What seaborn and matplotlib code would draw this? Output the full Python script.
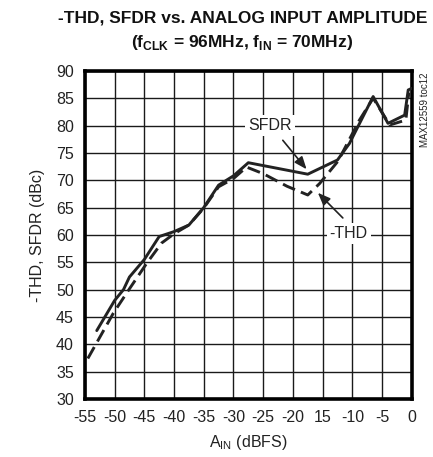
import matplotlib
matplotlib.use("Agg")
import matplotlib.pyplot as plt
import seaborn as sns
import pandas as pd

sfdr_x = [-53, -50, -48.5, -47.5, -45, -42.5, -40, -37.5, -35, -32.5, -30, -27.5, -17.5, -12.5, -10.5, -6.5, -4, -1.2, -0.6, 0]
sfdr_y = [42.5, 48, 50, 52.3, 55.5, 59.7, 60.6, 61.8, 65, 69.1, 70.8, 73.2, 71.1, 73.7, 76.7, 85.3, 80.4, 81.9, 86.5, 86.8]
thd_x = [-54.5, -50.2, -47.4, -44.6, -42.1, -40, -37.5, -35, -32.5, -30, -27.8, -25, -21, -17.5, -15.5, -12.4, -8.8, -6.5, -3.7, -1, -0.5]
thd_y = [37.4, 45.7, 50.3, 54.8, 58.5, 60.2, 61.8, 64.9, 68.8, 70.3, 72.4, 71.2, 68.9, 67.3, 69.4, 73.5, 81, 85, 80.1, 81, 86]
x_ticks = [-55, -50, -45, -40, -35, -30, -25, -20, -15, -10, -5, 0]
x_tick_labels = ["-55", "-50", "-45", "-40", "-35", "-30", "-25", "-20", "15", "-10", "-5", "0"]
y_ticks = [30, 35, 40, 45, 50, 55, 60, 65, 70, 75, 80, 85, 90]

sns.set_style("white")
fam = ["Liberation Sans Narrow", "Liberation Sans", "DejaVu Sans"]
plt.rcParams["font.family"] = fam
plt.rcParams["mathtext.fontset"] = "custom"
plt.rcParams["mathtext.rm"] = "Liberation Sans"
plt.rcParams["mathtext.bf"] = "Liberation Sans:bold"

fig = plt.figure(figsize=(4.33, 4.57), dpi=100)
ax = fig.add_axes([0.196, 0.127, 0.755, 0.718])

df_s = pd.DataFrame({"x": sfdr_x, "y": sfdr_y})
df_t = pd.DataFrame({"x": thd_x, "y": thd_y})
sns.lineplot(data=df_s, x="x", y="y", ax=ax, color="#222222", lw=2.1, sort=False, zorder=3)
sns.lineplot(data=df_t, x="x", y="y", ax=ax, color="#222222", lw=2.1, sort=False, zorder=3,
             dashes=False, linestyle=(0, (4.5, 2.2)))

ax.set_xlim(-55, 0)
ax.set_ylim(30, 90)
ax.set_xticks(x_ticks)
ax.set_xticklabels(x_tick_labels)
ax.set_yticks(y_ticks)
ax.grid(True, color="#1a1a1a", lw=1.0)
ax.set_axisbelow(True)
for s in ax.spines.values():
    s.set_linewidth(2.6)
    s.set_color("black")
ax.tick_params(length=0, labelsize=11.5, pad=8, colors="#222222")
ax.set_xlabel(r"A$_{\mathrm{IN}}$ (dBFS)", fontsize=11.5, color="#222222", labelpad=6)
ax.set_ylabel("-THD, SFDR (dBc)", fontsize=11.5, color="#222222", labelpad=8)

box = dict(boxstyle="square,pad=0.2", fc="white", ec="none")
ax.text(-23.9, 80, "SFDR", fontsize=11.5, color="#222222", ha="center", va="center", zorder=5, bbox=box)
ax.text(-10.6, 60.3, "-THD", fontsize=11.5, color="#222222", ha="center", va="center", zorder=5, bbox=box)
arrow = dict(arrowstyle="-|>,head_length=0.75,head_width=0.3", color="#222222", lw=1.2,
             shrinkA=0, shrinkB=0)
ax.annotate("", xy=(-17.7, 72.0), xytext=(-21.7, 77.3), arrowprops=arrow, zorder=5)
ax.annotate("", xy=(-15.8, 67.7), xytext=(-11.6, 63.1), arrowprops=arrow, zorder=5)

fig.text(0.56, 0.96, "-THD, SFDR vs. ANALOG INPUT AMPLITUDE", ha="center", va="center",
         fontsize=12.5, fontweight="bold", color="#111111")
fig.text(0.56, 0.908, r"(f$_{\mathbf{CLK}}$ = 96MHz, f$_{\mathbf{IN}}$ = 70MHz)", ha="center", va="center",
         fontsize=12.5, fontweight="bold", color="#111111")
fig.text(0.982, 0.76, "MAX12559 toc12", rotation=90, ha="center", va="center",
         fontsize=7, color="#222222")

fig.savefig("out.png", dpi=100)
